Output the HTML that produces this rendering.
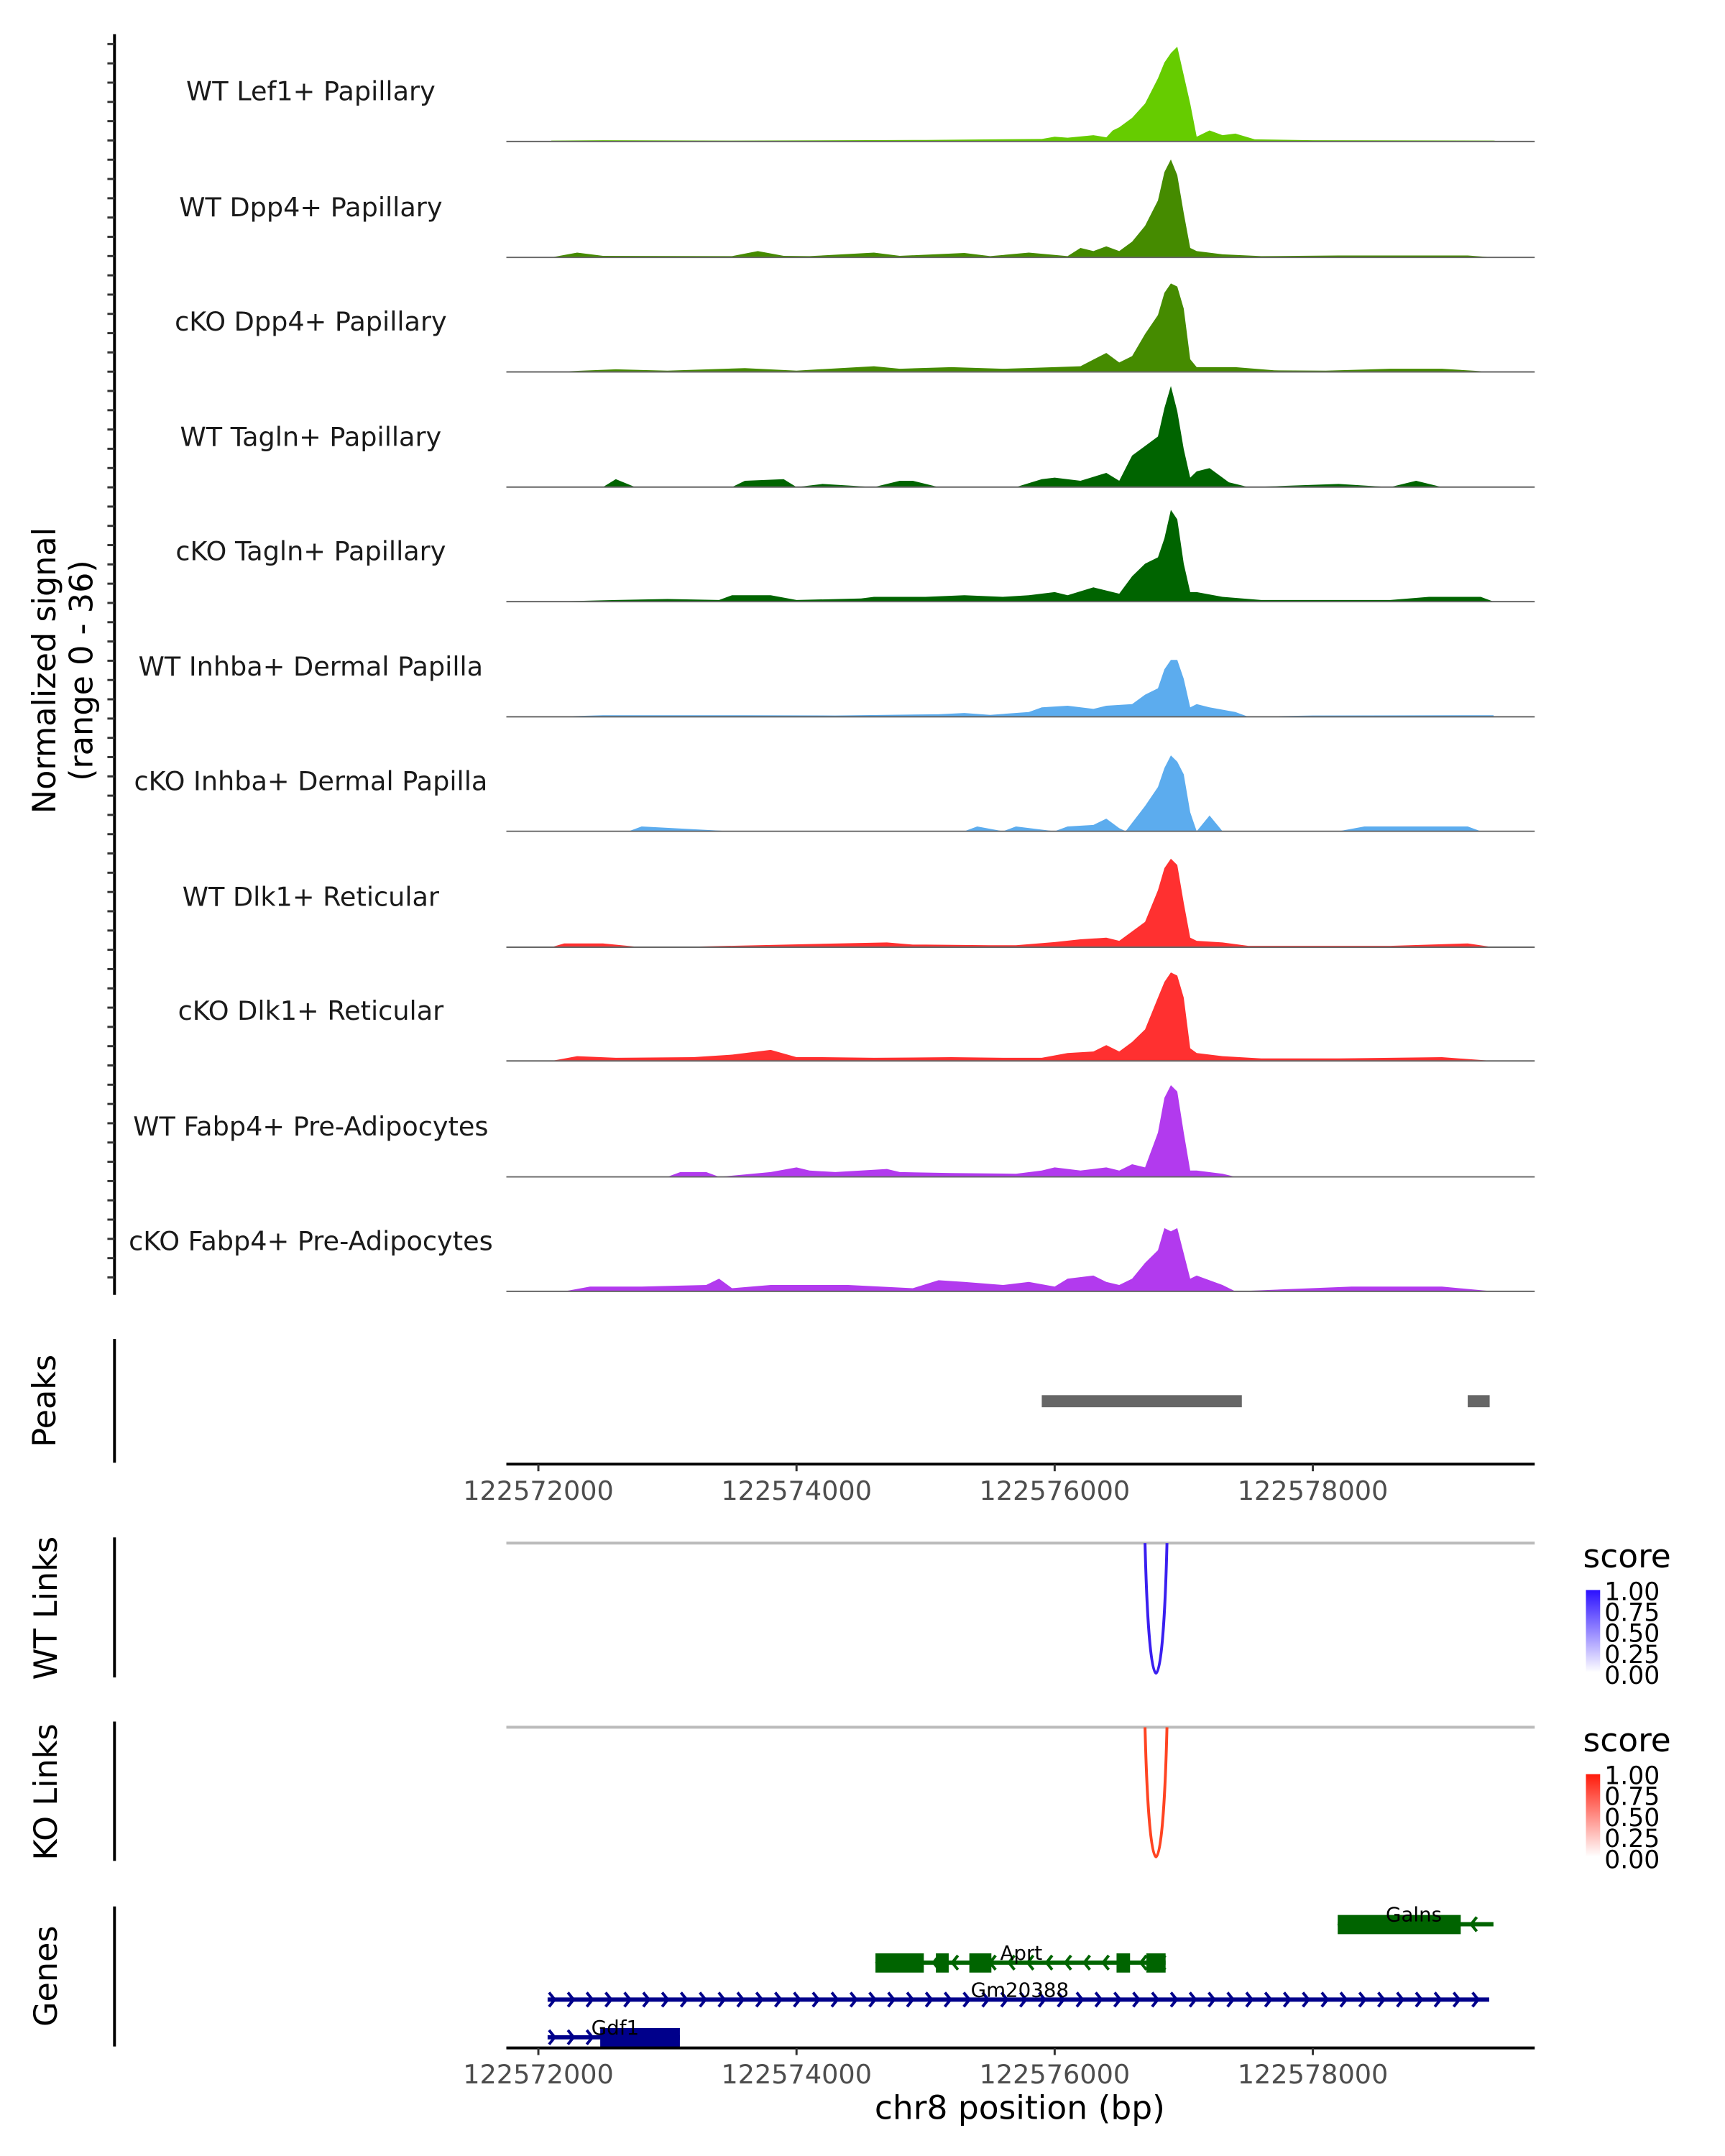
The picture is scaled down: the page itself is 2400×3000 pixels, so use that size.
<!DOCTYPE html>
<html><head><meta charset="utf-8"><style>
html,body{margin:0;padding:0;background:#fff}
svg{display:block;font-family:"DejaVu Sans","Liberation Sans",sans-serif}
</style></head><body>
<svg id="chart" width="2400" height="3000" viewBox="0 0 2400 3000" xmlns="http://www.w3.org/2000/svg">
<g transform="scale(0.98946)">
<g id="tracks"></g>
<g id="left"></g>
<text transform="translate(78,943) rotate(-90)" text-anchor="middle" font-size="45" fill="#000">Normalized signal</text>
<text transform="translate(130,943) rotate(-90)" text-anchor="middle" font-size="45" fill="#000">(range 0 - 36)</text>
<g id="peaks"></g>
<g id="links"></g>
<g id="genes"></g>
<g id="axes"></g>
</g>
</svg>
<script>
const NS="http://www.w3.org/2000/svg";
const trackNames=["WT Lef1+ Papillary","WT Dpp4+ Papillary","cKO Dpp4+ Papillary","WT Tagln+ Papillary","cKO Tagln+ Papillary","WT Inhba+ Dermal Papilla","cKO Inhba+ Dermal Papilla","WT Dlk1+ Reticular","cKO Dlk1+ Reticular","WT Fabp4+ Pre-Adipocytes","cKO Fabp4+ Pre-Adipocytes"];
const trackColors=["#66cc00","#458b00","#458b00","#006400","#006400","#5cacee","#5cacee","#ff3030","#ff3030","#b23aee","#b23aee"];
// positions in kb offset from 122570000
const pos0=[2.1,2.5,3.5,5.0,5.9,6.0,6.1,6.3,6.4,6.45,6.5,6.6,6.7,6.8,6.85,6.9,6.95,7.0,7.05,7.1,7.2,7.3,7.4,7.55,8.0,9.4,9.45];
const val0=[0.3,0.4,0.3,0.5,0.8,1.5,1.2,2.0,1.3,3.5,4.5,7.5,12,20,25,28,30,21,12,1.5,3.5,2,2.5,0.7,0.4,0.3,0];
const pos1=[2.1,2.3,2.5,3.5,3.7,3.9,4.1,4.6,4.8,5.3,5.5,5.8,6.1,6.2,6.3,6.4,6.5,6.6,6.7,6.8,6.85,6.9,6.95,7.0,7.05,7.1,7.3,7.6,8.2,9.2,9.4];
const val1=[0,1.5,0.5,0.4,2,0.5,0.4,1.5,0.5,1.4,0.4,1.5,0.4,3,2,3.5,2,5,10,18,27,31,26,14,3,2,1,0.4,0.6,0.6,0];
const pos2=[2.1,2.6,3.0,3.6,4.0,4.6,4.8,5.2,5.6,6.0,6.2,6.4,6.5,6.6,6.7,6.8,6.85,6.9,6.95,7.0,7.05,7.1,7.4,7.7,8.1,8.6,9.0,9.4];
const val2=[0,0.8,0.4,1.2,0.4,1.8,1.0,1.5,1.0,1.5,1.8,6,3,5,12,18,25,28,27,20,4,1.5,1.5,0.5,0.4,1.0,1.0,0];
const pos3=[2.1,2.5,2.6,2.75,3.5,3.6,3.9,4.0,4.2,4.6,4.8,4.9,5.1,5.7,5.9,6.0,6.2,6.4,6.5,6.6,6.7,6.8,6.85,6.9,6.95,7.0,7.05,7.1,7.2,7.35,7.5,8.2,8.6,8.8,9.0];
const val3=[0,0,2.5,0,0,2,2.5,0,1,0,2,2,0,0,2.5,3,2,4.5,2,10,13,16,25,32,24,12,3,5,6,1.5,0,1,0,2,0];
const pos4=[2.1,2.6,3.0,3.4,3.5,3.8,4.0,4.5,4.6,5.0,5.3,5.6,5.8,6.0,6.1,6.3,6.5,6.6,6.7,6.8,6.85,6.9,6.95,7.0,7.05,7.1,7.3,7.6,8.6,8.9,9.3,9.4];
const val4=[0,0.5,0.8,0.5,2,2,0.5,1,1.5,1.5,2,1.5,2,3,2,4.5,2.5,8,12,14,20,29,26,12,3,3,1.5,0.5,0.5,1.5,1.5,0];
const pos5=[2.1,2.5,3.3,3.6,4.3,5.1,5.3,5.5,5.8,5.9,6.1,6.3,6.4,6.6,6.7,6.8,6.85,6.9,6.95,7.0,7.05,7.1,7.2,7.4,7.5,8.0,9.4];
const val5=[0,0.5,0.5,0.5,0.4,0.8,1.2,0.6,1.5,3,3.5,2.5,3.5,4,7,9,15,18,18,12,3,4,3,1.5,0,0.4,0.5];
const pos6=[2.1,2.7,2.8,3.5,5.3,5.4,5.6,5.7,6.0,6.1,6.3,6.4,6.5,6.55,6.7,6.8,6.85,6.9,6.95,7.0,7.05,7.1,7.2,7.3,8.2,8.4,9.2,9.3];
const val6=[0,0,1.5,0,0,1.5,0,1.5,0,1.5,2,4,1,0,8,14,20,24,22,18,6,0,5,0,0,1.5,1.5,0];
const pos7=[2.1,2.2,2.5,2.8,3.0,4.7,4.9,5.0,5.5,5.7,6.0,6.2,6.4,6.5,6.6,6.7,6.8,6.85,6.9,6.95,7.0,7.05,7.1,7.3,7.5,8.6,9.2,9.4];
const val7=[0,1.2,1.2,0,0,1.5,0.8,0.8,0.6,0.6,1.6,2.5,3,2,5,8,18,25,28,26,14,3,2,1.5,0.4,0.4,1.2,0];
const pos8=[2.1,2.3,2.6,3.2,3.5,3.8,4.0,4.2,4.6,5.2,5.6,5.9,6.1,6.3,6.4,6.5,6.6,6.7,6.8,6.85,6.9,6.95,7.0,7.05,7.1,7.3,7.6,8.2,9.0,9.4];
const val8=[0,1.5,1,1.2,2,3.5,1.2,1.2,1,1.2,1,1,2.5,3,5,3,6,10,20,25,28,27,20,4,2.5,1.5,0.8,0.8,1.2,0];
const pos9=[3.0,3.1,3.3,3.4,3.8,4.0,4.1,4.3,4.7,4.8,5.2,5.7,5.9,6.0,6.2,6.4,6.5,6.6,6.7,6.8,6.85,6.9,6.95,7.0,7.05,7.1,7.3,7.4];
const val9=[0,1.5,1.5,0,1.5,3,2,1.5,2.5,1.5,1.2,1,2,3,2,3,2,4,3,14,25,29,27,14,2,2,1,0];
const pos10=[2.2,2.4,2.8,3.3,3.4,3.5,3.8,4.0,4.4,4.9,5.1,5.3,5.6,5.8,6.0,6.1,6.3,6.4,6.5,6.6,6.7,6.8,6.85,6.9,6.95,7.0,7.05,7.1,7.3,7.4,8.3,8.6,9.0,9.4];
const val10=[0,1.5,1.5,2,4,1,2,2,2,1,3.5,3,2,3,1.5,4,5,3,2,4,9,13,20,19,20,12,4,5,2,0,1.5,1.5,1.5,0];
const allPos=[pos0,pos1,pos2,pos3,pos4,pos5,pos6,pos7,pos8,pos9,pos10];
const allVal=[val0,val1,val2,val3,val4,val5,val6,val7,val8,val9,val10];
const xTicks=[122572000,122574000,122576000,122578000];
const peakStarts=[122575900,122579200];
const peakEnds=[122577450,122579370];
const linkStart=[122576700];
const linkEnd=[122576870];
const linkScore=[1.0];
const legendTicks=["1.00","0.75","0.50","0.25","0.00"];

const X0=712,X1=2158,BP0=122571752,BP1=122579719;
function xs(bp){return X0+(bp-BP0)/(BP1-BP0)*(X1-X0);}
function yv(v){return v*160/36;}
function mk(tag,attrs,parent){const e=document.createElementNS(NS,tag);for(const k in attrs)e.setAttribute(k,attrs[k]);parent.appendChild(e);return e;}

const T=document.getElementById('tracks');
const baselines=[199,362,523,685,846,1008,1169,1332,1492,1655,1816];
for(let i=0;i<trackNames.length;i++){
  const b=baselines[i];
  const g=mk('g',{},T);
  
  
  let pts=[];
  const P=allPos[i],V=allVal[i];
  pts.push(xs(122570000+P[0]*1000)+','+b);
  for(let j=0;j<P.length;j++)pts.push(xs(122570000+P[j]*1000).toFixed(1)+','+(b-yv(V[j])).toFixed(1));
  pts.push(xs(122570000+P[P.length-1]*1000)+','+b);
  const poly=mk('polygon',{points:pts.join(' '),fill:trackColors[i]},g);
  
  
  const ln=mk('line',{x1:X0,x2:X1,y1:b,y2:b,stroke:'#666','stroke-width':2},g);
  
  
  const t=mk('text',{x:437,y:b-58,'text-anchor':'middle','font-size':37,fill:'#1a1a1a'},g);
  
  
  t.textContent=trackNames[i];
}
const L=document.getElementById('left');
mk('line',{x1:161,x2:161,y1:48,y2:1821,stroke:'#000','stroke-width':4},L);
for(let y=62;y<1821;y+=27.1){mk('line',{x1:151,x2:161,y1:y,y2:y,stroke:'#333','stroke-width':3},L);}

// peaks
const PK=document.getElementById('peaks');
mk('line',{x1:161,x2:161,y1:1883,y2:2057,stroke:'#000','stroke-width':4},PK);
const pl=mk('text',{transform:'translate(78,1970) rotate(-90)','text-anchor':'middle','font-size':45},PK);


pl.textContent='Peaks';
for(let i=0;i<peakStarts.length;i++){
  const r=mk('rect',{x:xs(peakStarts[i]),y:1962,width:xs(peakEnds[i])-xs(peakStarts[i]),height:17,fill:'#666'},PK);
  
  
}

// x axes
const AX=document.getElementById('axes');
function xaxis(y){
  mk('line',{x1:X0,x2:X1,y1:y,y2:y,stroke:'#000','stroke-width':4},AX);
  xTicks.forEach(v=>{
    mk('line',{x1:xs(v),x2:xs(v),y1:y,y2:y+10,stroke:'#333','stroke-width':3},AX);
    const t=mk('text',{x:xs(v),y:y+50,'text-anchor':'middle','font-size':37,fill:'#4d4d4d'},AX);
    
    
    t.textContent=v;
  });
}
xaxis(2059);xaxis(2880);
const xt=mk('text',{x:1434,y:2980,'text-anchor':'middle','font-size':46,fill:'#000'},AX);


xt.textContent='chr8 position (bp)';

// links
const LK=document.getElementById('links');
const defs=mk('defs',{},LK);
function grad(id,c){const g=mk('linearGradient',{id:id,x1:0,y1:0,x2:0,y2:1},defs);mk('stop',{offset:0,'stop-color':c},g);mk('stop',{offset:1,'stop-color':'#fff'},g);}
grad('gb','#2b10ff');grad('gr','#ff1a0a');
function linkPanel(top,bottom,label,color,gid){
  mk('line',{x1:161,x2:161,y1:top-8,y2:bottom+6,stroke:'#000','stroke-width':4},LK);
  const t=mk('text',{transform:'translate(80,'+((top+bottom)/2)+') rotate(-90)','text-anchor':'middle','font-size':45},LK);
  
  
  t.textContent=label;
  mk('line',{x1:X0,x2:X1,y1:top,y2:top,stroke:'#bbb','stroke-width':4},LK);
  for(let i=0;i<linkStart.length;i++){
    const a=xs(linkStart[i]),b=xs(linkEnd[i]);
    const p=mk('path',{d:`M${a},${top} C${a+6},${bottom+61} ${b-6},${bottom+61} ${b},${top}`,fill:'none',stroke:color,'stroke-width':4,'stroke-opacity':linkScore[i]},LK);
    
    
  }
  const lx=2226,ly=top+34;
  const s=mk('text',{x:lx,y:ly,'font-size':46},LK);
  
  
  s.textContent='score';
  mk('rect',{x:lx+4,y:ly+32,width:20,height:116,fill:`url(#${gid})`},LK);
  legendTicks.forEach((v,k)=>{
    const tt=mk('text',{x:lx+30,y:ly+46+k*29.5,'font-size':35},LK);
    
    
    tt.textContent=v;
  });
}
linkPanel(2170,2353,'WT Links','#3a1ff0','gb');
linkPanel(2429,2611,'KO Links','#ff4422','gr');

// genes
const G=document.getElementById('genes');
mk('line',{x1:161,x2:161,y1:2681,y2:2878,stroke:'#000','stroke-width':4},G);
const gl=mk('text',{transform:'translate(80,2779) rotate(-90)','text-anchor':'middle','font-size':45},G);


gl.textContent='Genes';
function gene(name,x1,x2,y,color,dir,boxes,lx){
  const g=mk('g',{},G);
  
  
  mk('line',{x1:x1,x2:x2,y1:y,y2:y,stroke:color,'stroke-width':6},g);
  for(let x=x1+8;x<=x2;x+=26.5){
    const d=dir>0?`M${x-6},${y-10} L${x+2},${y} L${x-6},${y+10}`:`M${x+2},${y-10} L${x-6},${y} L${x+2},${y+10}`;
    mk('path',{d:d,fill:'none',stroke:color,'stroke-width':4},g);
  }
  boxes.forEach(bx=>mk('rect',{x:bx[0],y:y-13,width:bx[1]-bx[0],height:27,fill:color},g));
  const t=mk('text',{x:lx,y:y-4,'text-anchor':'middle','font-size':28},g);
  t.textContent=name;
}
gene('Galns',1881,2100,2706,'#006400',-1,[[1881,2054]],1988);
gene('Aprt',1231,1639,2760,'#006400',-1,[[1231,1299],[1316,1334],[1363,1394],[1570,1589],[1612,1639]],1436);
gene('Gm20388',770,2094,2812,'#00008b',1,[],1434);
gene('Gdf1',770,956,2865,'#00008b',1,[[844,956]],865);
</script>
</body></html>
